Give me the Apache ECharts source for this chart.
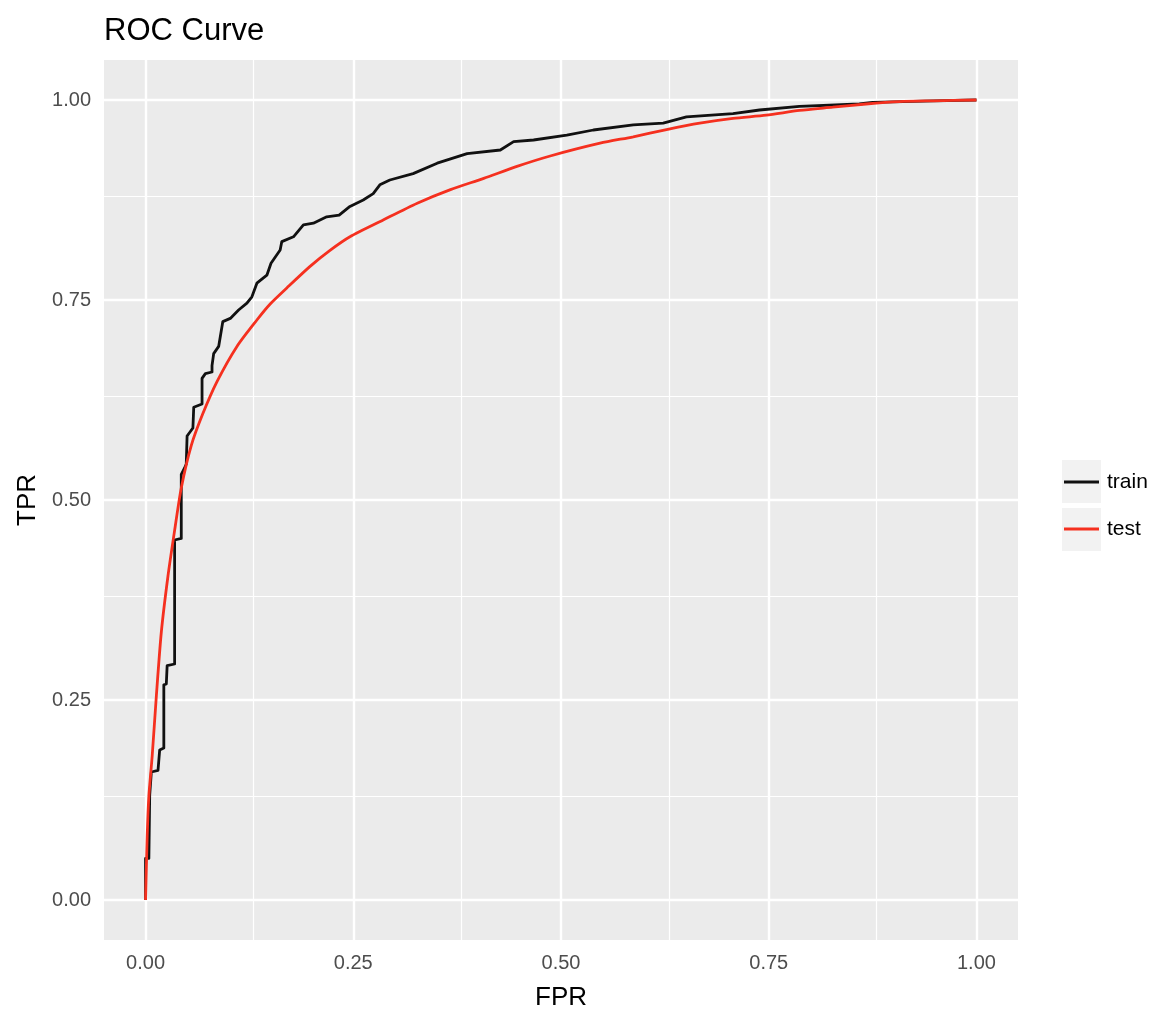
<!DOCTYPE html>
<html><head><meta charset="utf-8">
<script src="https://cdn.jsdelivr.net/npm/echarts@6/dist/echarts.min.js"></script>
<style>html,body{margin:0;padding:0;background:#fff}#c{width:1158px;height:1016px}</style>
</head><body><div id="c"></div>
<script>
const trainFpr=[0,0,0.004,0.005,0.007,0.007,0.015,0.017,0.022,0.022,0.025,0.026,0.035,0.035,0.043,0.043,0.047,0.049,0.050,0.057,0.058,0.068,0.068,0.072,0.080,0.080,0.082,0.088,0.093,0.102,0.112,0.122,0.128,0.134,0.146,0.151,0.162,0.164,0.178,0.190,0.202,0.218,0.233,0.246,0.262,0.274,0.282,0.294,0.322,0.351,0.387,0.427,0.443,0.467,0.507,0.539,0.587,0.623,0.651,0.707,0.739,0.787,0.859,0.875,0.948,1];
const trainTpr=[0,0.052,0.052,0.131,0.131,0.160,0.162,0.1875,0.190,0.269,0.270,0.293,0.295,0.450,0.452,0.532,0.540,0.545,0.580,0.590,0.616,0.620,0.652,0.658,0.660,0.668,0.683,0.692,0.723,0.727,0.7375,0.746,0.754,0.771,0.781,0.796,0.8125,0.823,0.829,0.844,0.846,0.854,0.856,0.867,0.875,0.883,0.894,0.900,0.908,0.921,0.933,0.9375,0.948,0.950,0.956,0.9625,0.969,0.971,0.979,0.983,0.9875,0.992,0.995,0.997,0.999,1];
const testFpr=[0,0.002,0.004,0.008,0.013,0.019,0.027,0.035,0.043,0.055,0.069,0.086,0.110,0.134,0.150,0.170,0.198,0.222,0.246,0.286,0.327,0.367,0.407,0.447,0.487,0.547,0.587,0.627,0.667,0.707,0.747,0.787,0.827,0.867,0.907,0.948,1];
const testTpr=[0,0.080,0.130,0.180,0.255,0.335,0.405,0.462,0.515,0.568,0.608,0.648,0.692,0.725,0.745,0.765,0.792,0.812,0.829,0.850,0.871,0.888,0.902,0.917,0.930,0.946,0.954,0.963,0.971,0.977,0.981,0.987,0.991,0.995,0.998,0.999,1];
const tickValues=[0,0.25,0.5,0.75,1];
const minorValues=[0.125,0.375,0.625,0.875];
const seriesNames=['train','test'];

const FONT='"Liberation Sans", Arial, sans-serif';
const zip=(a,b)=>a.map((v,i)=>[v,b[i]]);
const majorStyle={color:'#ffffff',width:2.4,type:'solid'};
const minorStyle={color:'#ffffff',width:1.2,type:'solid'};
const gridLines=[];
minorValues.forEach(v=>{gridLines.push({xAxis:v,lineStyle:minorStyle});gridLines.push({yAxis:v,lineStyle:minorStyle});});
tickValues.forEach(v=>{gridLines.push({xAxis:v,lineStyle:majorStyle});gridLines.push({yAxis:v,lineStyle:majorStyle});});

function axis(name,gap){
  return {type:'value',min:-0.05,max:1.05,
    axisLine:{show:false},
    axisTick:{show:true,customValues:tickValues,length:6,lineStyle:{color:'#333333',width:2}},
    axisLabel:{customValues:tickValues,formatter:v=>v.toFixed(2),fontSize:20,color:'#4d4d4d',margin:13,fontFamily:FONT},
    splitLine:{show:false},minorSplitLine:{show:false},
    name:name,nameLocation:'middle',nameGap:gap,
    nameTextStyle:{fontSize:26,color:'#000',fontFamily:FONT}};
}
const chart=echarts.init(document.getElementById('c'),null,{renderer:'canvas'});
chart.setOption({
  animation:false,
  backgroundColor:'#ffffff',
  title:{text:'ROC Curve',left:104,top:16,padding:0,textStyle:{fontSize:31,fontWeight:'normal',color:'#000',fontFamily:FONT}},
  grid:{left:104,right:140,top:60,bottom:76,show:true,backgroundColor:'#ebebeb',borderWidth:0},
  xAxis:axis('FPR',45),
  yAxis:axis('TPR',58),
  legend:[
    {data:[seriesNames[0]],left:1064,top:470,padding:0,orient:'vertical',icon:'rect',itemWidth:35,itemHeight:3,
     textStyle:{fontSize:21,lineHeight:24,color:'#000',fontFamily:FONT,padding:[0,0,0,3]}},
    {data:[seriesNames[1]],left:1064,top:517,padding:0,orient:'vertical',icon:'rect',itemWidth:35,itemHeight:3,
     textStyle:{fontSize:21,lineHeight:24,color:'#000',fontFamily:FONT,padding:[0,0,0,3]}}
  ],
  graphic:[
    {type:'rect',left:1062,top:460,shape:{width:39,height:43},style:{fill:'#f2f2f2'},z:-1},
    {type:'rect',left:1062,top:508,shape:{width:39,height:43},style:{fill:'#f2f2f2'},z:-1}
  ],
  series:[
    {name:'gridlines',type:'line',data:[],silent:true,z:1,
     markLine:{silent:true,z:1,symbol:['none','none'],label:{show:false},animation:false,data:gridLines}},
    {name:seriesNames[0],type:'line',data:zip(trainFpr,trainTpr),showSymbol:false,symbol:'none',z:3,
     lineStyle:{color:'#111111',width:2.8,join:'round'},itemStyle:{color:'#111111'}},
    {name:seriesNames[1],type:'line',data:zip(testFpr,testTpr),smooth:0.25,showSymbol:false,symbol:'none',z:4,
     lineStyle:{color:'#f5301f',width:2.8},itemStyle:{color:'#f5301f'}}
  ]
});
</script></body></html>
